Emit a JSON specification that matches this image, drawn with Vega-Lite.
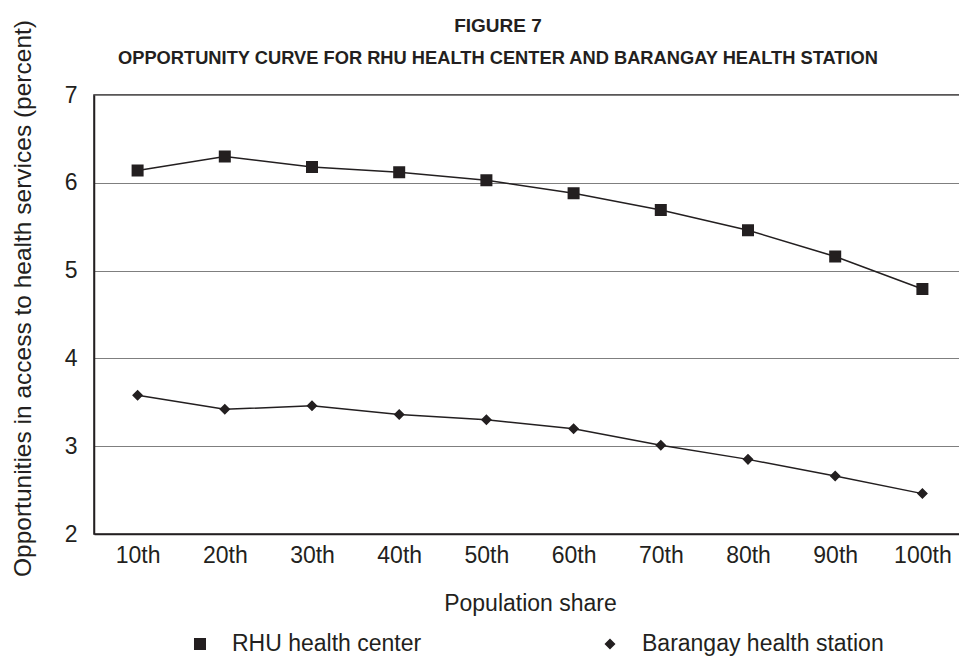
{
  "$schema": "https://vega.github.io/schema/vega-lite/v6.json",
  "width": 872,
  "height": 439,
  "autosize": {"type": "none"},
  "padding": {"left": 94, "top": 95, "right": 0, "bottom": 125},
  "background": "white",
  "config": {
    "font": "Liberation Sans",
    "view": {"stroke": "#231f20", "strokeWidth": 1.5}
  },
  "title": {
    "text": "FIGURE 7",
    "subtitle": "OPPORTUNITY CURVE FOR RHU HEALTH CENTER AND BARANGAY HEALTH STATION",
    "font": "Liberation Sans",
    "subtitleFont": "Liberation Sans",
    "fontSize": 19,
    "subtitleFontSize": 18.3,
    "fontWeight": "bold",
    "subtitleFontWeight": "bold",
    "color": "#231f20",
    "subtitleColor": "#231f20",
    "anchor": "middle",
    "dx": -32,
    "offset": -48,
    "subtitlePadding": 14
  },
  "data": {
    "values": [
      {"share": "10th", "series": "RHU health center", "value": 6.14},
      {"share": "20th", "series": "RHU health center", "value": 6.30},
      {"share": "30th", "series": "RHU health center", "value": 6.18},
      {"share": "40th", "series": "RHU health center", "value": 6.12},
      {"share": "50th", "series": "RHU health center", "value": 6.03},
      {"share": "60th", "series": "RHU health center", "value": 5.88},
      {"share": "70th", "series": "RHU health center", "value": 5.69},
      {"share": "80th", "series": "RHU health center", "value": 5.46},
      {"share": "90th", "series": "RHU health center", "value": 5.16},
      {"share": "100th", "series": "RHU health center", "value": 4.79},
      {"share": "10th", "series": "Barangay health station", "value": 3.58},
      {"share": "20th", "series": "Barangay health station", "value": 3.42},
      {"share": "30th", "series": "Barangay health station", "value": 3.46},
      {"share": "40th", "series": "Barangay health station", "value": 3.36},
      {"share": "50th", "series": "Barangay health station", "value": 3.30},
      {"share": "60th", "series": "Barangay health station", "value": 3.20},
      {"share": "70th", "series": "Barangay health station", "value": 3.01},
      {"share": "80th", "series": "Barangay health station", "value": 2.85},
      {"share": "90th", "series": "Barangay health station", "value": 2.66},
      {"share": "100th", "series": "Barangay health station", "value": 2.46}
    ]
  },
  "encoding": {
    "x": {
      "field": "share",
      "type": "ordinal",
      "sort": ["10th", "20th", "30th", "40th", "50th", "60th", "70th", "80th", "90th", "100th"],
      "scale": {"type": "point", "padding": 0.5},
      "axis": {
        "title": "Population share",
        "labelAngle": 0,
        "ticks": false,
        "tickSize": 0,
        "grid": false,
        "domainColor": "#231f20",
        "domainWidth": 1.5,
        "labelFontSize": 23,
        "labelColor": "#231f20",
        "labelPadding": 10,
        "titleFontSize": 23,
        "titleFontWeight": "normal",
        "titleColor": "#231f20",
        "titlePadding": 25
      }
    },
    "y": {
      "field": "value",
      "type": "quantitative",
      "scale": {"domain": [2, 7], "nice": false, "zero": false},
      "axis": {
        "title": "Opportunities in access to health services (percent)",
        "values": [2, 3, 4, 5, 6, 7],
        "grid": true,
        "gridColor": "#7f7f7f",
        "gridWidth": 1,
        "ticks": false,
        "tickSize": 0,
        "domainColor": "#231f20",
        "domainWidth": 1.5,
        "labelFontSize": 23,
        "labelColor": "#231f20",
        "labelPadding": 17,
        "titleFontSize": 24.5,
        "titleFontWeight": "normal",
        "titleColor": "#231f20",
        "titleAngle": -90,
        "titleAlign": "center",
        "titleBaseline": "middle",
        "titleX": -71,
        "titleY": 203
      }
    }
  },
  "layer": [
    {
      "mark": {"type": "line", "strokeWidth": 1.5, "color": "#231f20"},
      "encoding": {"detail": {"field": "series", "type": "nominal"}}
    },
    {
      "mark": {"type": "point", "filled": true, "opacity": 1, "color": "#231f20", "size": 1444},
      "encoding": {
        "shape": {
          "field": "series",
          "type": "nominal",
          "scale": {
            "domain": ["RHU health center", "Barangay health station"],
            "range": ["M-1,0H1M-0.316,-0.316H0.316V0.316H-0.316Z", "M-1,0H1M0,-0.29L0.29,0L0,0.29L-0.29,0Z"]
          },
          "legend": {
            "title": null,
            "orient": "none",
            "legendX": 86,
            "legendY": 529,
            "direction": "horizontal",
            "padding": 0,
            "columnPadding": 166,
            "symbolSize": 1444,
            "symbolStrokeWidth": 1.5,
            "symbolFillColor": "#231f20",
            "symbolStrokeColor": "#231f20",
            "symbolOpacity": 1,
            "labelFontSize": 23,
            "labelColor": "#231f20",
            "labelOffset": 12,
            "labelLimit": 400,
            "encode": {
              "symbols": {
                "update": {
                  "stroke": {"value": "#231f20"},
                  "strokeWidth": {"value": 1.5},
                  "strokeOpacity": {"value": 1}
                }
              }
            }
          }
        }
      }
    }
  ]
}
